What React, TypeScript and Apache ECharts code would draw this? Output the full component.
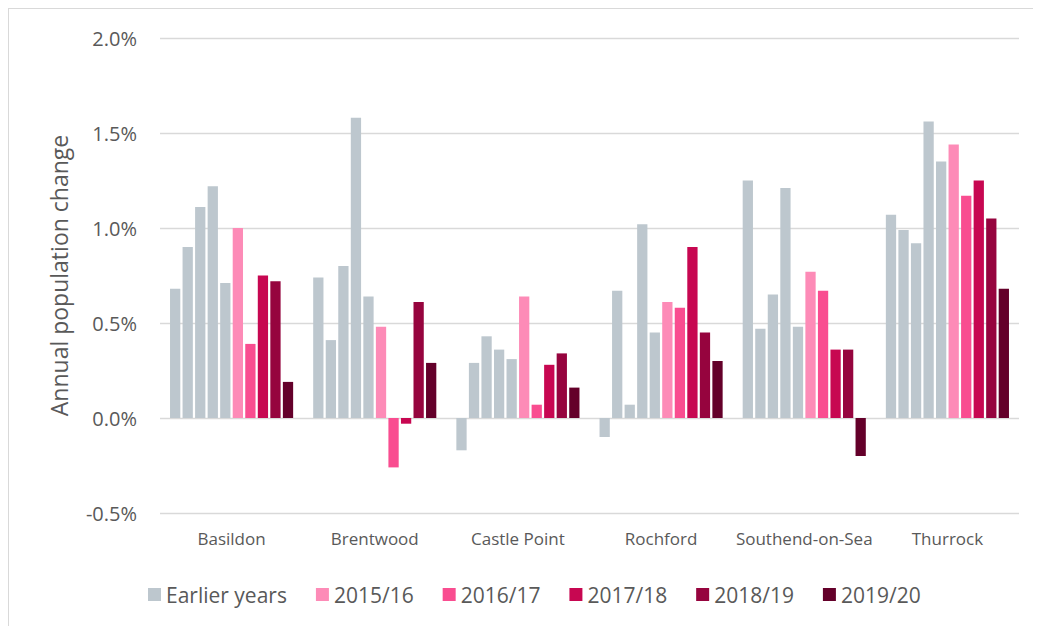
import React, { useEffect, useRef } from "react";
import * as echarts from "echarts";

const categories = ["Basildon", "Brentwood", "Castle Point", "Rochford", "Southend-on-Sea", "Thurrock"];

// Annual population change, % (five earlier years shown in grey)
const earlier1 = [0.68, 0.74, -0.17, -0.10, 1.25, 1.07];
const earlier2 = [0.90, 0.41, 0.29, 0.67, 0.47, 0.99];
const earlier3 = [1.11, 0.80, 0.43, 0.07, 0.65, 0.92];
const earlier4 = [1.22, 1.58, 0.36, 1.02, 1.21, 1.56];
const earlier5 = [0.71, 0.64, 0.31, 0.45, 0.48, 1.35];
const y2015 = [1.00, 0.48, 0.64, 0.61, 0.77, 1.44];
const y2016 = [0.39, -0.26, 0.07, 0.58, 0.67, 1.17];
const y2017 = [0.75, -0.03, 0.28, 0.90, 0.36, 1.25];
const y2018 = [0.72, 0.61, 0.34, 0.45, 0.36, 1.05];
const y2019 = [0.19, 0.29, 0.16, 0.30, -0.20, 0.68];

const earlierName = "Earlier years";
const yearNames = ["2015/16", "2016/17", "2017/18", "2018/19", "2019/20"];
const earlierSeries = [earlier1, earlier2, earlier3, earlier4, earlier5];
const yearSeries = [y2015, y2016, y2017, y2018, y2019];

const greyColor = "#BDC7CE";
const yearColors = ["#FD8BB7", "#F94D90", "#C70751", "#96043E", "#64002A"];

const FONT = "'Open Sans', sans-serif";
const TEXT = "#595959";

export default function App() {
  const ref = useRef<HTMLDivElement>(null);

  useEffect(() => {
    if (!ref.current) return;
    const chart = echarts.init(ref.current, undefined, { renderer: "svg" });

    const common = {
      type: "bar" as const,
      barGap: "22%",
      barCategoryGap: "14%",
    };

    const series: any[] = [];
    earlierSeries.forEach((d) => {
      series.push({ ...common, name: earlierName, data: d, itemStyle: { color: greyColor } });
    });
    yearSeries.forEach((d, i) => {
      series.push({ ...common, name: yearNames[i], data: d, itemStyle: { color: yearColors[i] } });
    });

    chart.setOption({
      animation: false,
      textStyle: { fontFamily: FONT },
      grid: { left: 151, right: 22, top: 29, bottom: 113, containLabel: false },
      legend: {
        data: [earlierName, ...yearNames],
        left: 134,
        top: 570,
        icon: "rect",
        itemWidth: 13,
        itemHeight: 13,
        itemGap: 29,
        textStyle: { fontFamily: FONT, fontSize: 21, color: TEXT },
      },
      xAxis: {
        type: "category",
        data: categories,
        axisLine: { show: false, onZero: false },
        axisTick: { show: false },
        axisLabel: { interval: 0, fontFamily: FONT, fontSize: 17, color: TEXT, margin: 17 },
      },
      yAxis: {
        type: "value",
        min: -0.5,
        max: 2.0,
        interval: 0.5,
        name: "Annual population change",
        nameLocation: "middle",
        nameGap: 90,
        nameTextStyle: { fontFamily: FONT, fontSize: 23, color: TEXT },
        axisLine: { show: false },
        axisTick: { show: false },
        axisLabel: {
          fontFamily: FONT,
          fontSize: 20,
          color: TEXT,
          margin: 23,
          formatter: (v: number) => v.toFixed(1) + "%",
        },
        splitLine: { lineStyle: { color: "#D9D9D9", width: 1.3 } },
      },
      series,
    });

    return () => chart.dispose();
  }, []);

  return (
    <div
      style={{
        width: 1033,
        height: 618,
        boxSizing: "border-box",
        borderTop: "1px solid #D9D9D9",
        borderLeft: "1px solid #D9D9D9",
        background: "#fff",
      }}
    >
      <div ref={ref} style={{ width: 1032, height: 617 }} />
    </div>
  );
}
